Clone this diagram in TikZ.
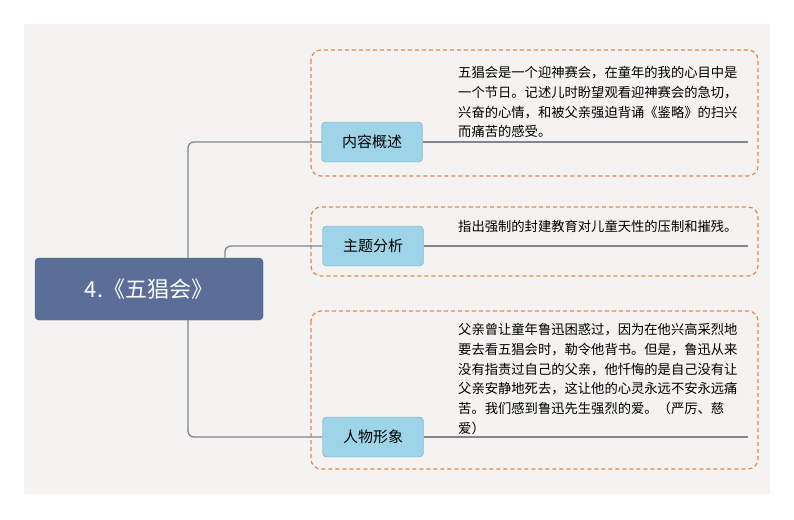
\documentclass[tikz,border=0pt]{standalone}
\usepackage{fontspec}
\newfontfamily\cjk{Noto Sans CJK SC}
\definecolor{bg}{HTML}{F4F3F1}
\definecolor{rootc}{HTML}{5A6E98}
\definecolor{branchc}{HTML}{9DD4E8}
\definecolor{linec}{HTML}{7F8794}
\definecolor{dashc}{HTML}{E8894A}
\tikzset{
 rootbox/.style={draw=rootc!80!black,fill=rootc,rounded corners=4pt,minimum width=228pt,minimum height=62pt,text=white,font=\cjk\fontsize{22}{26}\selectfont},
 branchbox/.style={draw=branchc!80!black,fill=branchc,rounded corners=4pt,minimum width=101pt,minimum height=40pt,font=\cjk\fontsize{15}{17}\selectfont},
 grp/.style={draw=dashc,dashed,line width=1.2pt,rounded corners=10pt,dash pattern=on 4pt off 3pt},
 conn/.style={draw=linec,line width=1.3pt,rounded corners=6pt},
 desc/.style={anchor=north west,align=left,inner sep=0pt,font=\cjk\fontsize{13.3}{19.8}\selectfont},
}
\begin{document}
\begin{tikzpicture}[x=1pt,y=-1pt]
\useasboundingbox (0,0) rectangle (794,519);
\fill[bg] (24,24) rectangle (770,494);
\draw[grp] (311,50) rectangle (758,176);
\draw[grp] (311,207) rectangle (758,276);
\draw[grp] (311,311) rectangle (758,469);
\node[rootbox] (root) at (149,289) {4.《五猖会》};
\node[branchbox] (b1) at (372,142) {内容概述};
\node[branchbox] (b2) at (373,246) {主题分析};
\node[branchbox] (b3) at (373,437) {人物形象};
\coordinate (e1) at (748,142);
\coordinate (e2) at (748,246);
\coordinate (e3) at (748,437);
\draw[conn] (root.north -| 188,0) |- (b1.west);
\draw[conn] (root.north -| 225,0) |- (b2.west);
\draw[conn] (root.south -| 188,0) |- (b3.west);
\draw[conn] (b1.east) -- (e1);
\draw[conn] (b2.east) -- (e2);
\draw[conn] (b3.east) -- (e3);
\node[desc] (t1) at (458,66) {五猖会是一个迎神赛会，在童年的我的心目中是\\一个节日。记述儿时盼望观看迎神赛会的急切，\\兴奋的心情，和被父亲强迫背诵《鉴略》的扫兴\\而痛苦的感受。};
\node[desc] (t2) at (458,220) {指出强制的封建教育对儿童天性的压制和摧残。};
\node[desc] (t3) at (458,323) {父亲曾让童年鲁迅困惑过，因为在他兴高采烈地\\要去看五猖会时，勒令他背书。但是，鲁迅从来\\没有指责过自己的父亲，他忏悔的是自己没有让\\父亲安静地死去，这让他的心灵永远不安永远痛\\苦。我们感到鲁迅先生强烈的爱。（严厉、慈\\爱）};
\end{tikzpicture}
\end{document}
